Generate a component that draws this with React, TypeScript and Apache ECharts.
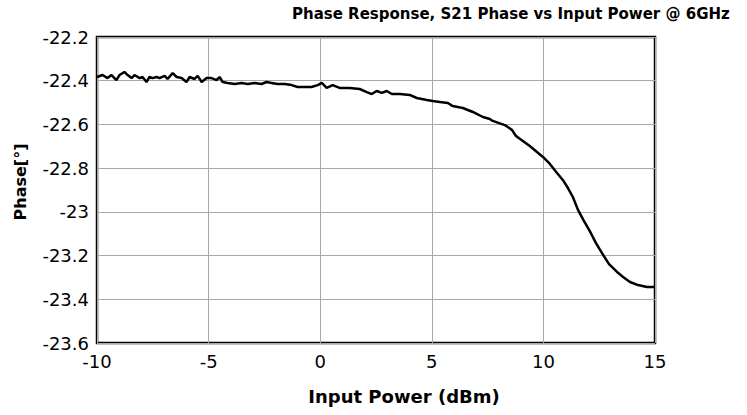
import React, { useEffect, useRef } from "react";
import * as echarts from "echarts";

const titleText = "Phase Response, S21 Phase vs Input Power @ 6GHz";
const xAxisName = "Input Power (dBm)";
const yAxisName = "Phase[°]";

const powerDbm = [
  -10.0, -9.75, -9.53, -9.35, -9.13, -8.99, -8.77, -8.63, -8.45, -8.32,
  -8.09, -7.96, -7.78, -7.65, -7.51, -7.33, -7.2, -6.97, -6.84, -6.61,
  -6.43, -6.21, -5.99, -5.85, -5.63, -5.49, -5.31, -5.09, -4.87, -4.64,
  -4.51, -4.37, -4.15, -3.83, -3.52, -3.25, -2.94, -2.63, -2.4, -2.18,
  -1.91, -1.59, -1.28, -1.01, -0.7, -0.39, -0.11, 0.07, 0.29, 0.56,
  0.87, 1.32, 1.77, 2.09, 2.31, 2.53, 2.76, 2.98, 3.21, 3.57,
  4.01, 4.33, 4.78, 5.04, 5.36, 5.72, 5.94, 6.39, 6.84, 7.29,
  7.6, 7.73, 8.27, 8.59, 8.77, 9.08, 9.39, 9.98, 10.29, 10.61,
  10.87, 11.1, 11.32, 11.55, 11.82, 12.1, 12.35, 12.62, 12.94, 13.3,
  13.57, 13.88, 14.24, 14.64, 15.0,
];

const phaseDeg = [
  -22.383, -22.374, -22.388, -22.374, -22.397, -22.374, -22.36, -22.374, -22.388, -22.374,
  -22.388, -22.383, -22.406, -22.383, -22.388, -22.383, -22.388, -22.378, -22.392, -22.365,
  -22.383, -22.388, -22.406, -22.383, -22.392, -22.378, -22.406, -22.388, -22.388, -22.397,
  -22.383, -22.406, -22.41, -22.415, -22.41, -22.415, -22.41, -22.415, -22.406, -22.41,
  -22.415, -22.415, -22.42, -22.429, -22.429, -22.429, -22.42, -22.41, -22.433, -22.42,
  -22.433, -22.433, -22.438, -22.452, -22.461, -22.447, -22.456, -22.447, -22.461, -22.461,
  -22.465, -22.479, -22.488, -22.493, -22.497, -22.502, -22.516, -22.525, -22.543, -22.566,
  -22.575, -22.584, -22.603, -22.625, -22.653, -22.676, -22.699, -22.749, -22.781, -22.822,
  -22.854, -22.891, -22.932, -22.991, -23.042, -23.092, -23.142, -23.188, -23.239, -23.275,
  -23.298, -23.321, -23.335, -23.344, -23.344,
];

const xTicks = { min: -10, max: 15, interval: 5 };
const yTicks = { min: -23.6, max: -22.2, interval: 0.2 };

export default function App() {
  const ref = useRef<HTMLDivElement>(null);
  useEffect(() => {
    document.body.style.margin = "0";
    const chart = echarts.init(ref.current!, null, { renderer: "svg" });
    const font = "DejaVu Sans";
    chart.setOption({
      animation: false,
      backgroundColor: "#fff",
      grid: {
        left: 97,
        right: 92,
        top: 37,
        bottom: 72,
        show: true,
        borderColor: "#000",
        borderWidth: 2.5,
        backgroundColor: "transparent",
      },
      xAxis: {
        type: "value",
        min: xTicks.min,
        max: xTicks.max,
        interval: xTicks.interval,
        axisLine: { show: false },
        axisTick: { show: false },
        axisLabel: { color: "#000", fontFamily: font, fontSize: 18, margin: 9 },
        splitLine: { show: true, lineStyle: { color: "#a8a8a8", width: 1 } },
      },
      yAxis: {
        type: "value",
        min: yTicks.min,
        max: yTicks.max,
        interval: yTicks.interval,
        axisLine: { show: false },
        axisTick: { show: false },
        axisLabel: {
          color: "#000",
          fontFamily: font,
          fontSize: 18,
          margin: 8,
          formatter: (v: number) => String(Math.round(v * 10) / 10),
        },
        splitLine: { show: true, lineStyle: { color: "#a8a8a8", width: 1 } },
      },
      series: [
        {
          type: "line",
          data: powerDbm.map((x, i) => [x, phaseDeg[i]]),
          showSymbol: false,
          lineStyle: { color: "#000", width: 2.5 },
          z: 3,
        },
      ],
      graphic: [
        {
          type: "text",
          left: 292,
          top: 6,
          style: { text: titleText, font: `bold 15px "${font}"`, fill: "#000" },
        },
        {
          type: "text",
          x: 404,
          y: 396,
          style: {
            text: xAxisName,
            font: `bold 18px "${font}"`,
            fill: "#000",
            align: "center",
            verticalAlign: "middle",
          },
        },
        {
          type: "text",
          x: 20,
          y: 182,
          rotation: Math.PI / 2,
          style: {
            text: yAxisName,
            font: `bold 16px "${font}"`,
            fill: "#000",
            align: "center",
            verticalAlign: "middle",
          },
        },
      ],
    });
    return () => chart.dispose();
  }, []);
  return <div ref={ref} style={{ width: 747, height: 415 }} />;
}
